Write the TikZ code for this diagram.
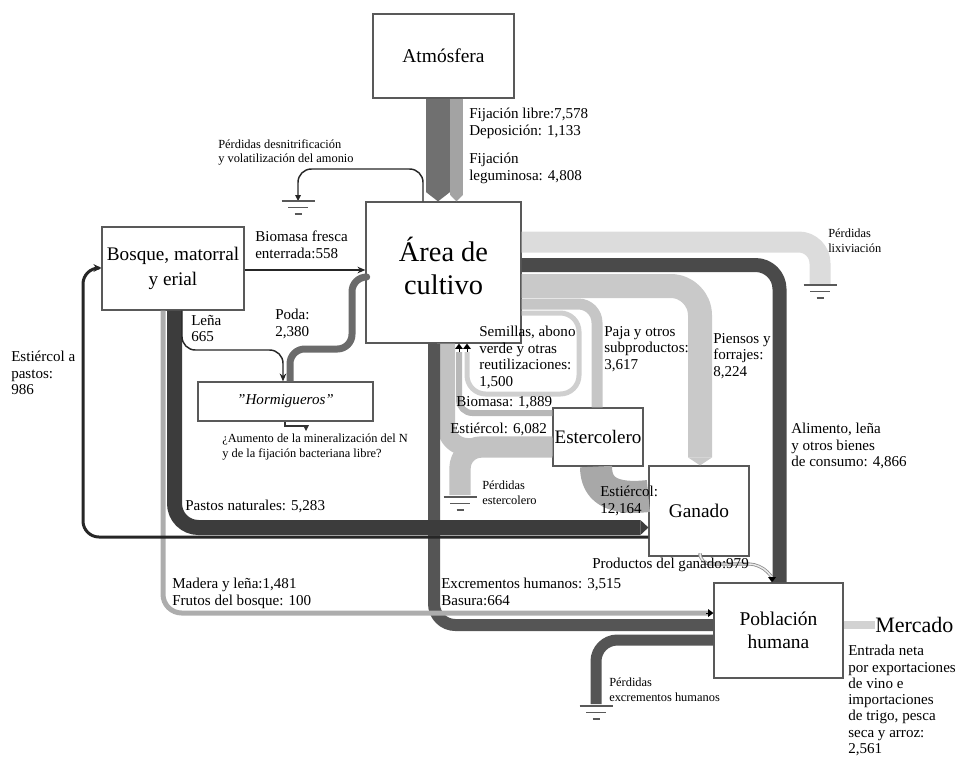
\documentclass[tikz,border=0pt]{standalone}
\usepackage{fontspec}
\setmainfont{Liberation Serif}
\usetikzlibrary{arrows.meta,calc}
\definecolor{cFix}{HTML}{707070}
\definecolor{cLeg}{HTML}{A3A3A3}
\definecolor{cPoda}{HTML}{6B6B6B}
\definecolor{cPast}{HTML}{3C3C3C}
\definecolor{cMad}{HTML}{ADADAD}
\definecolor{cExc}{HTML}{555555}
\definecolor{cLix}{HTML}{DCDCDC}
\definecolor{cAli}{HTML}{4A4A4A}
\definecolor{cPie}{HTML}{C9C9C9}
\definecolor{cPaja}{HTML}{C6C6C6}
\definecolor{cSem}{HTML}{CFCFCF}
\definecolor{cEst}{HTML}{C2C2C2}
\definecolor{cBio}{HTML}{B8B8B8}
\definecolor{cE12}{HTML}{A8A8A8}
\definecolor{cMer}{HTML}{D2D2D2}
\begin{document}
\begin{tikzpicture}[x=0.75pt,y=-0.75pt,
  box/.style={draw=black!65, line width=0.9pt, fill=white, inner sep=0pt, align=center},
  lab/.style={font=\fontsize{11.3}{12.4}\selectfont, align=left, inner sep=0pt, anchor=north west},
  slab/.style={font=\fontsize{9.3}{10.7}\selectfont, align=left, inner sep=0pt, anchor=north west},
  band/.style={line cap=butt, line join=round},
  thinline/.style={line width=1.1pt, black!85},
  tip/.style={-{Triangle[length=4.5pt,width=4.5pt,line width=0pt]}},
  gnd/.pic={\draw[line width=1.3pt, black!65] (-16.5,0)--(16.5,0) (-10,6.5)--(10,6.5) (-3.5,13)--(3.5,13);}
]
\useasboundingbox (0,0) rectangle (959,758);

% boxes
\node[box, minimum width=105.75pt, minimum height=63pt, font=\fontsize{14.6}{17}\selectfont] (atm) at (443.5,56) {Atmósfera};
\node[box, minimum width=116.25pt, minimum height=105.75pt, font=\fontsize{21.3}{25}\selectfont] (area) at (443.5,272.5) {Área de\\cultivo\\[-14.5pt]\mbox{}};
\node[box, minimum width=106.5pt, minimum height=62.25pt, font=\fontsize{14.4}{18.5}\selectfont] (bosque) at (173,268.5) {Bosque, matorral\\y erial};
\node[box, minimum width=131.25pt, minimum height=29.25pt, font=\fontsize{11.3}{13}\selectfont\itshape] (horm) at (285.5,401.5) {\char"22 Hormigueros\char"22};
\node[box, minimum width=67.5pt, minimum height=43.5pt, font=\fontsize{14.3}{17}\selectfont] (esterc) at (598,437) {Estercolero};
\node[box, minimum width=75pt, minimum height=67.5pt, font=\fontsize{14.5}{17}\selectfont] (ganado) at (699,511) {Ganado};
\node[box, minimum width=96.75pt, minimum height=71.25pt, font=\fontsize{14.6}{17.4}\selectfont] (pobl) at (778.5,630.5) {Población\\humana};
\node[font=\fontsize{16.5}{18}\selectfont, inner sep=0pt, anchor=west] (merc) at (875,625) {Mercado};

% free-end coordinates
\coordinate (g1) at (298,201);
\coordinate (g2) at (820,285);
\coordinate (g3) at (460,497);
\coordinate (g4) at (596,706);
\coordinate (hout) at (306,431);

% atmosphere inputs
\draw[band, cFix, line width=18pt, -{Triangle[length=7pt,width=18pt,line width=0pt]}] (438,0 |- atm.south) -- (438,0 |- area.north);
\draw[band, cLeg, line width=9.75pt, -{Triangle[length=5pt,width=9.75pt,line width=0pt]}] (456.5,0 |- atm.south) -- (456.5,0 |- area.north);

% desnitrificacion
\draw[thinline, rounded corners=10pt, tip] (423,0 |- area.north) -- (423,169) -- (298,169) -- (g1);
\pic at (g1) {gnd};

% lixiviacion
\draw[band, cLix, line width=15.75pt, rounded corners=16pt] (area.east |- 0,242) -- (820,242) -- (820,284);
\pic at (g2) {gnd};

% alimento
\draw[band, cAli, line width=10.5pt, rounded corners=18pt] (area.east |- 0,265) -- (779.5,265) -- (779.5,0 |- pobl.north);

% piensos
\draw[band, cPie, line width=18pt, rounded corners=22pt, -{Triangle[length=6pt,width=18pt,line width=0pt]}] (area.east |- 0,286) -- (700,286) -- (700,0 |- ganado.north);

% paja
\draw[band, cPaja, line width=8.25pt, rounded corners=14pt] (area.east |- 0,304) -- (597,304) -- (597,0 |- esterc.north);

% semillas loop
\draw[band, cSem, line width=3.75pt, rounded corners=14pt] (area.east |- 0,313) -- (579,313) -- (579,394) -- (467,394) -- (467,352);
\draw[black, -{Triangle[length=4pt,width=6pt,line width=0pt]}] (467,352) -- (467,0 |- area.south);

% perdidas estercolero
\draw[band, cEst, line width=16pt, rounded corners=16pt] (esterc.west |- 0,447) -- (460,447) -- (460,495);
\pic at (g3) {gnd};
% estiercol 6082 to area
\draw[band, cEst, line width=13.5pt, rounded corners=16pt] (esterc.west |- 0,447) -- (446,447) -- (446,0 |- area.south);

% biomasa 1889
\draw[band, cBio, line width=4.5pt, rounded corners=10pt] (esterc.west |- 0,413) -- (459,413) -- (459,352);
\draw[black, -{Triangle[length=4pt,width=6pt,line width=0pt]}] (459,352) -- (459,0 |- area.south);

% estiercol 12164
\draw[band, cE12, line width=24pt] (ganado.west |- 0,496) .. controls (612,500) and (596,490) .. (596,0 |- esterc.south);

% excrementos humanos (dark)
\draw[band, cExc, line width=9pt, rounded corners=16pt] (434,0 |- area.south) -- (434,625) -- (pobl.west |- 0,625);
% perdidas excrementos
\draw[band, cExc, line width=8.25pt, rounded corners=16pt] (pobl.west |- 0,640) -- (596,640) -- (596,704);
\pic at (g4) {gnd};

% madera y lena
\draw[band, cMad, line width=3.75pt, rounded corners=14pt] (163,0 |- bosque.south) -- (163,613) -- (708,613);
\draw[black, -{Triangle[length=4pt,width=6pt,line width=0pt]}] (706,613) -- (pobl.west |- 0,613);

% pastos naturales
\draw[band, cPast, line width=11.25pt, rounded corners=18pt, -{Triangle[length=6pt,width=11.25pt,line width=0pt]}] (174.5,0 |- bosque.south) -- (174.5,527.5) -- (ganado.west |- 0,527.5);

% estiercol a pastos
\draw[band, black!85, line width=2.25pt, rounded corners=12pt, -{Stealth[length=6pt,width=6pt]}] (ganado.west |- 0,537) -- (83,537) -- (83,268) -- (bosque.west |- 0,268);

% biomasa fresca enterrada
\draw[thinline, -{Stealth[length=6pt,width=5pt]}] (bosque.east |- 0,270) -- (area.west |- 0,270);

% poda
\draw[band, cPoda, line width=5.25pt, rounded corners=11pt] (area.west |- 0,277) -- (352,277) -- (352,349) -- (290,349) -- (290,0 |- horm.north);

% lena
\draw[thinline, rounded corners=10pt, -{Stealth[length=6pt,width=5pt]}] (182,0 |- bosque.south) -- (182,350) -- (283,350) -- (283,0 |- horm.north);

% hormigueros output
\draw[line width=0.9pt, black!80, tip] (285,0 |- horm.south) -- (285,426) -- (306,426) -- (hout);

% productos del ganado
\draw[draw=black!45, double=black!8, double distance=1.1pt, line width=0.6pt, rounded corners=8pt] (700,0 |- ganado.south) -- (700,564) -- (760,564) -- (772,577);
\draw[black, -{Triangle[length=4pt,width=6pt,line width=0pt]}] (772,577) -- (772,0 |- pobl.north);

% mercado
\draw[band, cMer, line width=6pt] (pobl.east |- 0,625) -- (merc.west);

% labels
\node[lab] (tfl) at (469,108) {Fijación libre:7,578\\Deposición: 1,133};
\node[lab] (tleg) at (469,153) {Fijación\\leguminosa: 4,808};
\node[slab] (tdes) at (218,139) {Pérdidas desnitrificación\\y volatilización del amonio};
\node[lab] (tbf) at (255,231) {Biomasa fresca\\enterrada:558};
\node[lab] (tlena) at (191,315) {Leña\\665};
\node[lab] (tpoda) at (275,309) {Poda:\\2,380};
\node[slab] (taum) at (222,434) {¿Aumento de la mineralización del N\\y de la fijación bacteriana libre?};
\node[lab] (test986) at (11,351) {Estiércol a\\pastos:\\986};
\node[lab] (tpast) at (185,500) {Pastos naturales: 5,283};
\node[lab] (tmad) at (172,578) {Madera y leña:1,481\\Frutos del bosque: 100};
\node[lab] (texc) at (441,578) {Excrementos humanos: 3,515\\Basura:664};
\node[lab] (tsem) at (479,326) {Semillas, abono\\verde y otras\\reutilizaciones:\\1,500};
\node[lab] (tpaja) at (604,326) {Paja y otros\\subproductos:\\3,617};
\node[lab] (tpien) at (713,333) {Piensos y\\forrajes:\\8,224};
\node[lab] (tbio) at (456,396) {Biomasa: 1,889};
\node[lab] (test6) at (450,423) {Estiércol: 6,082};
\node[lab] (test12) at (600,486) {Estiércol:\\12,164};
\node[slab] (tpest) at (482,481) {Pérdidas\\estercolero};
\node[slab] (tlix) at (828,229) {Pérdidas\\lixiviación};
\node[lab] (talim) at (791,423) {Alimento, leña\\y otros bienes\\de consumo: 4,866};
\node[lab] (tprod) at (592,558) {Productos del ganado:979};
\node[slab] (tpexc) at (609,678) {Pérdidas\\excrementos humanos};
\node[lab, font=\fontsize{11.3}{12.2}\selectfont] (tentr) at (848,645) {Entrada neta\\por exportaciones\\de vino e\\importaciones\\de  trigo, pesca\\seca y arroz:\\2,561};
\end{tikzpicture}
\end{document}
